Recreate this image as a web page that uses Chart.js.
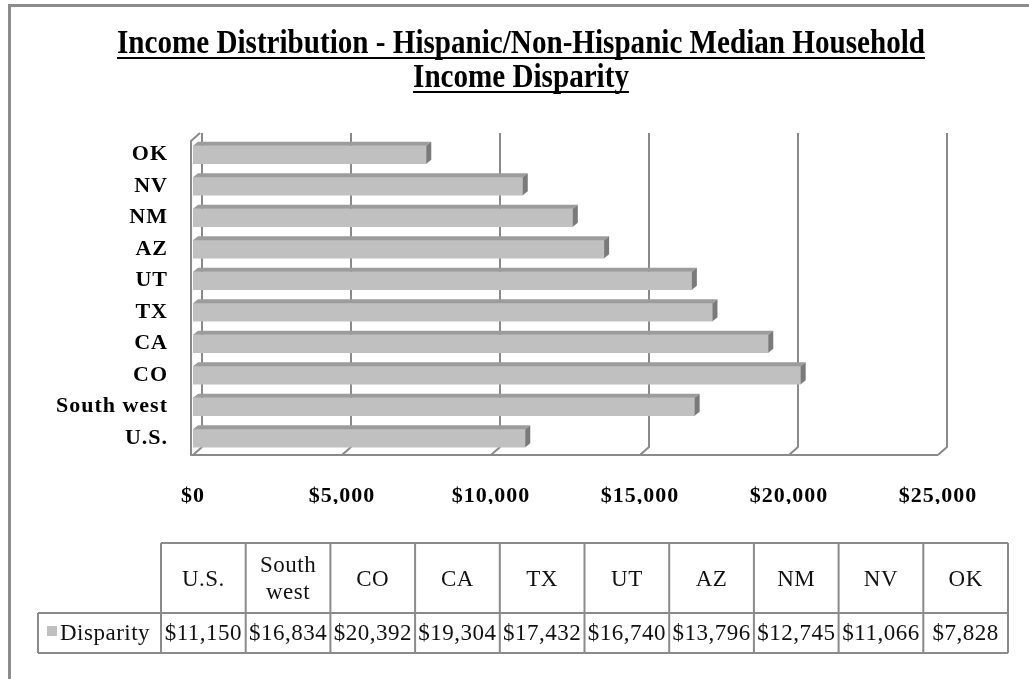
<!DOCTYPE html>
<html>
<head>
<meta charset="utf-8">
<title>Income Disparity</title>
<script src="https://cdn.jsdelivr.net/npm/chart.js@4.4.1/dist/chart.umd.min.js"></script>
<style>
    html, body { margin: 0; padding: 0; background: #fff; }
    #wrap { position: relative; width: 1029px; height: 679px; }
</style>
</head>
<body>
<div id="wrap"><canvas id="incomeChart"></canvas></div>
<script>
// Chart data
const titleLines = ['Income Distribution - Hispanic/Non-Hispanic Median Household', 'Income Disparity'];
const categories = ['U.S.', 'South west', 'CO', 'CA', 'TX', 'UT', 'AZ', 'NM', 'NV', 'OK'];
const disparity = [11150, 16834, 20392, 19304, 17432, 16740, 13796, 12745, 11066, 7828];
const seriesName = 'Disparity';
const xMin = 0;
const xMax = 25000;
const xStep = 5000;

const SERIF = "'Liberation Serif', 'Times New Roman', serif";
const FRAME = '#8a8a8a';
const BAR = '#c0c0c0';
const DEPTH = { x: 9, y: 8 };      // depth of the 3D walls
const BAR_DEPTH = { x: 5, y: 4 };  // depth of each bar

function money(v) {
    return '$' + Number(v).toLocaleString('en-US');
}

// Letter spacing for the axis labels (canvas state is reset on resize)
const spacingPlugin = {
    id: 'spacing',
    beforeLayout(chart) { chart.ctx.letterSpacing = '1px'; },
    beforeDraw(chart) { chart.ctx.letterSpacing = '1px'; }
};

// Back wall gridlines, floor and left wall
const framePlugin = {
    id: 'frame3d',
    beforeDatasetsDraw(chart) {
        const { ctx, chartArea: a, scales: { x } } = chart;
        const floor = a.bottom + 1;
        const backTop = a.top - 6;
        ctx.save();
        ctx.strokeStyle = FRAME;
        ctx.lineWidth = 2;
        ctx.lineJoin = 'round';
        for (let v = xMin; v <= xMax; v += xStep) {
            const fx = x.getPixelForValue(v);
            ctx.beginPath();
            ctx.moveTo(fx + DEPTH.x, backTop);
            ctx.lineTo(fx + DEPTH.x, floor - DEPTH.y);
            ctx.lineTo(fx, floor);
            ctx.stroke();
        }
        const lx = x.getPixelForValue(xMin) - 2;
        ctx.beginPath();
        ctx.moveTo(lx + DEPTH.x, backTop);
        ctx.lineTo(lx, backTop + DEPTH.y);
        ctx.lineTo(lx, floor);
        ctx.lineTo(x.getPixelForValue(xMax), floor);
        ctx.stroke();
        ctx.restore();
    }
};

// Top and end faces of each bar
const barPlugin = {
    id: 'bar3d',
    afterDatasetsDraw(chart) {
        const ctx = chart.ctx;
        const meta = chart.getDatasetMeta(0);
        ctx.save();
        meta.data.forEach(bar => {
            const p = bar.getProps(['x', 'y', 'base', 'height'], true);
            const top = p.y - p.height / 2;
            const bottom = p.y + p.height / 2;
            ctx.fillStyle = '#9c9c9c';
            ctx.beginPath();
            ctx.moveTo(p.base, top);
            ctx.lineTo(p.x, top);
            ctx.lineTo(p.x + BAR_DEPTH.x, top - BAR_DEPTH.y);
            ctx.lineTo(p.base + BAR_DEPTH.x, top - BAR_DEPTH.y);
            ctx.closePath();
            ctx.fill();
            ctx.fillStyle = '#7a7a7a';
            ctx.beginPath();
            ctx.moveTo(p.x, top);
            ctx.lineTo(p.x + BAR_DEPTH.x, top - BAR_DEPTH.y);
            ctx.lineTo(p.x + BAR_DEPTH.x, bottom - BAR_DEPTH.y);
            ctx.lineTo(p.x, bottom);
            ctx.closePath();
            ctx.fill();
        });
        ctx.restore();
    }
};

// Underlined title, outer border and data table
const extrasPlugin = {
    id: 'extras',
    afterDraw(chart) {
        const ctx = chart.ctx;
        ctx.save();

        // outer border
        ctx.strokeStyle = '#8c8c8c';
        ctx.lineWidth = 3;
        ctx.beginPath();
        ctx.moveTo(9.5, 679);
        ctx.lineTo(9.5, 5.5);
        ctx.lineTo(1029, 5.5);
        ctx.stroke();

        // title
        ctx.letterSpacing = '0px';
        ctx.fillStyle = '#000';
        ctx.strokeStyle = '#000';
        ctx.font = 'bold 34px ' + SERIF;
        ctx.textAlign = 'center';
        ctx.textBaseline = 'alphabetic';
        const sx = 808 / ctx.measureText(titleLines[0]).width;
        const cx = 521;
        const baselines = [53, 87];
        titleLines.forEach((line, i) => {
            const w = ctx.measureText(line).width * sx;
            ctx.save();
            ctx.translate(cx, baselines[i]);
            ctx.scale(sx, 1);
            ctx.fillText(line, 0, 0);
            ctx.restore();
            ctx.lineWidth = 2;
            ctx.beginPath();
            ctx.moveTo(cx - w / 2, baselines[i] + 5);
            ctx.lineTo(cx + w / 2, baselines[i] + 5);
            ctx.stroke();
        });

        // data table
        const left = 161, colW = 84.7, headTop = 543, headBottom = 613, rowBottom = 653, legendLeft = 38;
        const right = left + colW * categories.length;
        ctx.strokeStyle = FRAME;
        ctx.lineWidth = 2;
        ctx.beginPath();
        ctx.moveTo(left, headTop); ctx.lineTo(right, headTop);
        ctx.moveTo(legendLeft, headBottom); ctx.lineTo(right, headBottom);
        ctx.moveTo(legendLeft, rowBottom); ctx.lineTo(right, rowBottom);
        ctx.moveTo(legendLeft, headBottom); ctx.lineTo(legendLeft, rowBottom);
        for (let i = 0; i <= categories.length; i++) {
            const gx = left + i * colW;
            ctx.moveTo(gx, headTop); ctx.lineTo(gx, rowBottom);
        }
        ctx.stroke();

        ctx.font = '23px ' + SERIF;
        ctx.letterSpacing = '0.5px';
        ctx.fillStyle = '#111';
        ctx.textAlign = 'center';
        ctx.textBaseline = 'middle';
        const headMid = (headTop + headBottom) / 2 + 2;
        const rowMid = (headBottom + rowBottom) / 2 + 1;
        categories.forEach((cat, i) => {
            const mx = left + (i + 0.5) * colW;
            if (ctx.measureText(cat).width > colW - 8) {
                const words = cat.split(' ');
                ctx.fillText(words[0], mx, headMid - 14);
                ctx.fillText(words.slice(1).join(' '), mx, headMid + 13);
            } else {
                ctx.fillText(cat, mx, headMid);
            }
            ctx.fillText(money(disparity[i]), mx, rowMid);
        });

        // legend key
        ctx.fillStyle = BAR;
        ctx.fillRect(47, 626, 10, 10);
        ctx.fillStyle = '#111';
        ctx.textAlign = 'left';
        ctx.fillText(seriesName, 60, rowMid);
        ctx.restore();
    }
};

new Chart(document.getElementById('incomeChart'), {
    type: 'bar',
    data: {
        labels: categories,
        datasets: [{
            label: seriesName,
            data: disparity,
            backgroundColor: BAR,
            borderWidth: 0,
            barThickness: 18
        }]
    },
    options: {
        indexAxis: 'y',
        responsive: true,
        maintainAspectRatio: false,
        animation: false,
        layout: {
            padding: { top: 139, right: 91, bottom: 175, left: 0 }
        },
        plugins: {
            legend: { display: false },
            title: { display: false },
            tooltip: { enabled: false }
        },
        scales: {
            x: {
                min: xMin,
                max: xMax,
                ticks: {
                    stepSize: xStep,
                    padding: 29,
                    color: '#000',
                    font: { family: SERIF, size: 22, weight: 'bold' },
                    callback: function(value) { return money(value); }
                },
                grid: { display: false, drawTicks: false },
                border: { display: false },
                afterFit: function(scale) { scale.height = 50; }
            },
            y: {
                reverse: true,
                ticks: {
                    padding: 25,
                    color: '#000',
                    font: { family: SERIF, size: 22, weight: 'bold' }
                },
                grid: { display: false, drawTicks: false },
                border: { display: false },
                afterFit: function(scale) { scale.width = 193; }
            }
        }
    },
    plugins: [spacingPlugin, framePlugin, barPlugin, extrasPlugin]
});
</script>
</body>
</html>
